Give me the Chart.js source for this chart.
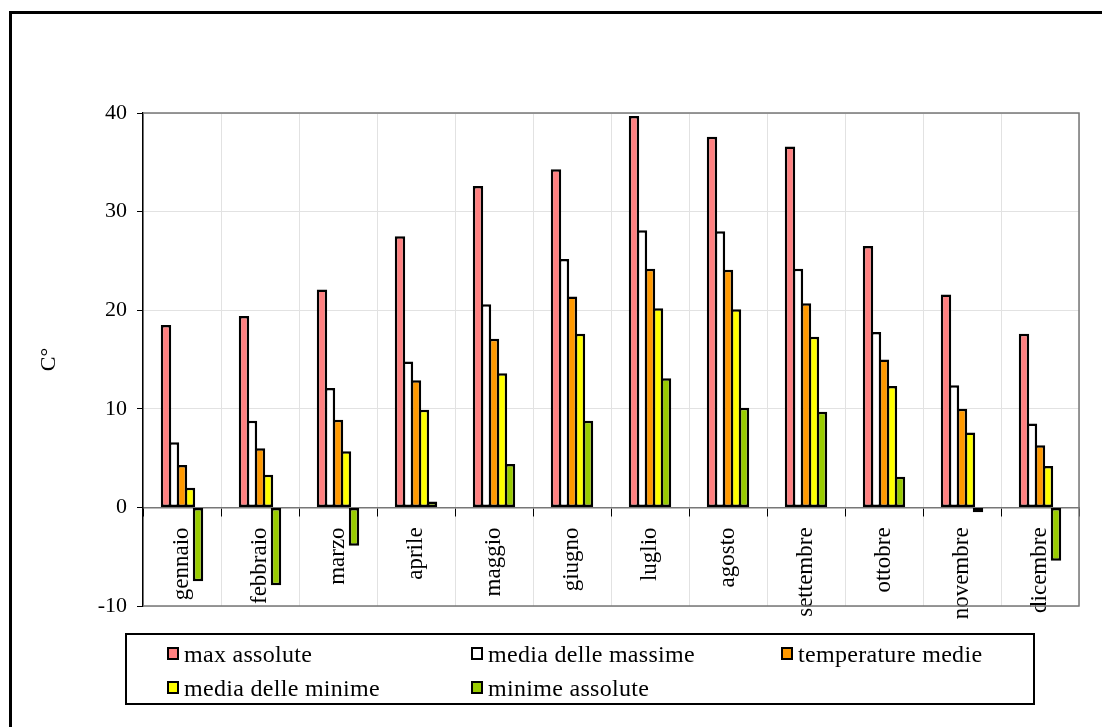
<!DOCTYPE html>
<html>
<head>
<meta charset="utf-8">
<script src="https://cdn.jsdelivr.net/npm/chart.js@4"></script>
<style>
  body { margin: 0; background: #fff; }
  #wrap { position: relative; width: 1102px; height: 727px; overflow: hidden; }
  #frame { position: absolute; left: 9px; top: 11px; width: 1200px; height: 800px;
           border-left: 3px solid #000; border-top: 3px solid #000; box-sizing: border-box; }
  #legend { position: absolute; left: 125px; top: 633px; width: 910px; height: 72px;
            border: 2px solid #000; box-sizing: border-box;
            font-family: "Liberation Serif"; font-size: 24px; letter-spacing: 0.3px; color: #000; }
  .item { position: absolute; white-space: nowrap; line-height: 26px; }
  .box { display: inline-block; width: 8px; height: 9px; border: 2px solid #000;
         margin-right: 5px; vertical-align: 2px; }
</style>
</head>
<body>
<div id="wrap">
  <div id="frame"></div>
  <canvas id="chart" width="1102" height="727"></canvas>
  <div id="legend"></div>
</div>
<script>
const months = ['gennaio', 'febbraio', 'marzo', 'aprile', 'maggio', 'giugno',
    'luglio', 'agosto', 'settembre', 'ottobre', 'novembre', 'dicembre'];
const maxAssolute = [18.5, 19.4, 22.1, 27.5, 32.6, 34.3, 39.7, 37.6, 36.6, 26.5, 21.6, 17.6];
const mediaMassime = [6.6, 8.8, 12.1, 14.8, 20.6, 25.2, 28.1, 28.0, 24.2, 17.8, 12.4, 8.5];
const temperatureMedie = [4.3, 6.0, 8.9, 12.9, 17.1, 21.4, 24.2, 24.1, 20.7, 15.0, 10.0, 6.3];
const mediaMinime = [2.0, 3.3, 5.7, 9.9, 13.6, 17.6, 20.2, 20.1, 17.3, 12.3, 7.6, 4.2];
const minimeAssolute = [-7.5, -7.9, -3.9, 0.6, 4.4, 8.8, 13.1, 10.1, 9.7, 3.1, -0.5, -5.4];
const yTicks = [-10, 0, 10, 20, 30, 40];

const seriesNames = ['max assolute', 'media delle massime', 'temperature medie',
    'media delle minime', 'minime assolute'];
const seriesColors = ['#FF8080', '#FFFFFF', '#FF9900', '#FFFF00', '#99CC00'];
const seriesData = [maxAssolute, mediaMassime, temperatureMedie, mediaMinime, minimeAssolute];

const serif = '"Liberation Serif"';

// gray frame round the plot area (top, right, bottom)
const plotFrame = {
    id: 'plotFrame',
    afterDraw(chart) {
        const a = chart.chartArea;
        const ctx = chart.ctx;
        ctx.save();
        ctx.strokeStyle = '#777';
        ctx.lineWidth = 1.5;
        ctx.beginPath();
        ctx.moveTo(a.left, a.top);
        ctx.lineTo(a.right, a.top);
        ctx.lineTo(a.right, a.bottom);
        ctx.lineTo(a.left, a.bottom);
        ctx.stroke();
        ctx.restore();
    }
};

function drawChart() {
    // bars a bit wider than their slot so neighbouring outlines overlap
    const datasets = seriesData.map(function (data, i) {
        return {
            label: seriesNames[i],
            data: data,
            backgroundColor: seriesColors[i],
            borderColor: '#000',
            borderWidth: 2.5,
            borderSkipped: false,
            barPercentage: 1.3,
            categoryPercentage: 0.513
        };
    });

    new Chart(document.getElementById('chart'), {
        type: 'bar',
        data: { labels: months, datasets: datasets },
        plugins: [plotFrame],
        options: {
            responsive: false,
            animation: false,
            devicePixelRatio: 1,
            layout: { padding: { left: 22, top: 113, right: 23, bottom: 121 } },
            plugins: {
                legend: { display: false },
                tooltip: { enabled: false }
            },
            scales: {
                x: {
                    position: { y: 0 },
                    afterFit(scale) { scale.height = 0; },
                    grid: {
                        offset: true,
                        color: '#e2e2e2',
                        tickColor: '#000',
                        tickLength: 8,
                        lineWidth: 1
                    },
                    border: { display: true, color: '#777', width: 1.5 },
                    ticks: {
                        minRotation: 90,
                        maxRotation: 90,
                        padding: 12,
                        color: '#000',
                        font: { family: serif, size: 23 }
                    }
                },
                y: {
                    min: -10,
                    max: 40,
                    afterFit(scale) { scale.width = 121; },
                    afterBuildTicks(scale) {
                        scale.ticks = yTicks.map(v => ({ value: v }));
                    },
                    grid: {
                        color: '#e2e2e2',
                        tickColor: '#000',
                        tickLength: 6
                    },
                    border: { display: true, color: '#000', width: 1.5 },
                    ticks: {
                        padding: 10,
                        color: '#000',
                        font: { family: serif, size: 22 }
                    },
                    title: {
                        display: true,
                        text: 'C°',
                        color: '#000',
                        padding: { top: 14, bottom: 0 },
                        font: { family: serif, size: 22 }
                    }
                }
            }
        }
    });
}

// legend laid out in three columns like the original
const legendCols = [40, 344, 654];
const legendRows = [6, 40];
const legend = document.getElementById('legend');
seriesNames.forEach(function (name, i) {
    const item = document.createElement('div');
    item.className = 'item';
    item.style.left = legendCols[i % 3] + 'px';
    item.style.top = legendRows[Math.floor(i / 3)] + 'px';
    const box = document.createElement('span');
    box.className = 'box';
    box.style.background = seriesColors[i];
    item.appendChild(box);
    item.appendChild(document.createTextNode(name));
    legend.appendChild(item);
});

// make sure the serif face is ready before the canvas text is drawn
Promise.all([
    document.fonts.load('22px "Liberation Serif"'),
    document.fonts.load('23px "Liberation Serif"')
]).then(drawChart, drawChart);
</script>
</body>
</html>
